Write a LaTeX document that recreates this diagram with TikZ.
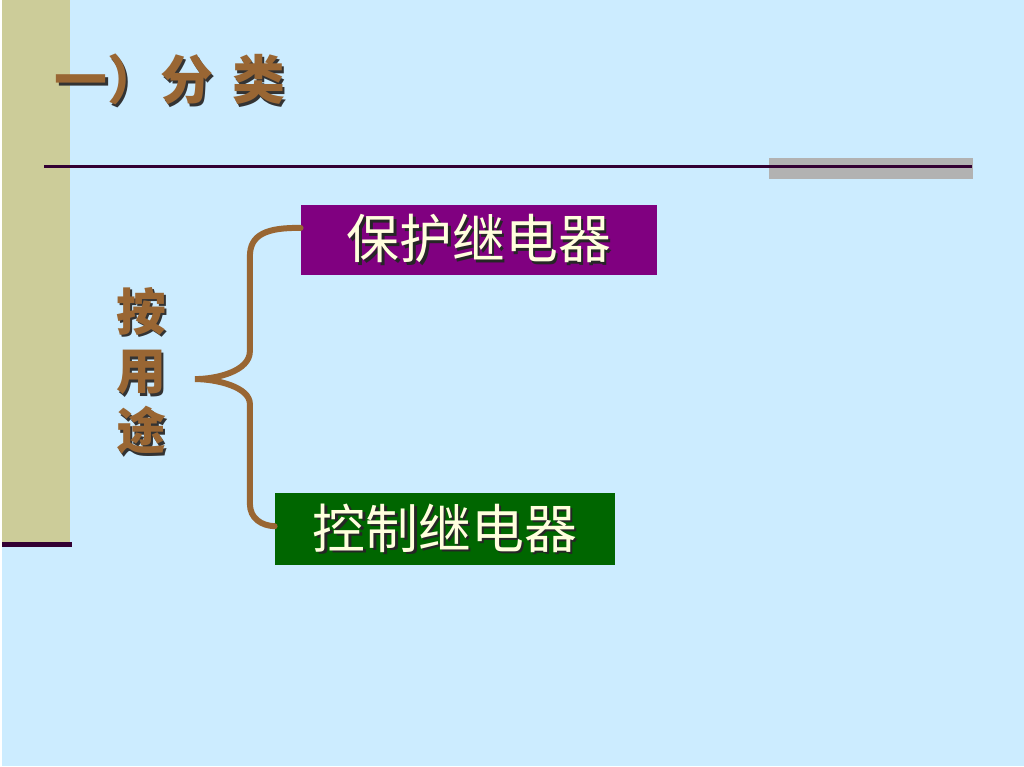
\documentclass[tikz,border=0pt]{standalone}
\usepackage{fontspec}
\newfontfamily\cjk{Noto Sans CJK SC}
\usetikzlibrary{positioning}

\definecolor{skyback}{HTML}{CCECFF}
\definecolor{sidebar}{HTML}{CCCC99}
\definecolor{darkrule}{HTML}{330033}
\definecolor{greybar}{HTML}{B2B2B2}
\definecolor{protfill}{HTML}{800080}
\definecolor{ctrlfill}{HTML}{006600}
\definecolor{woodbrown}{HTML}{996633}
\definecolor{creamtext}{HTML}{FFFFDD}

% text with a dark drop shadow
\newcommand\embossed[2]{\rlap{\kern2.5pt\raisebox{-2.5pt}{\color{#1}#2}}#2}

\begin{document}
\begin{tikzpicture}[x=1pt,y=-1pt,
  titletext/.style={font=\cjk\bfseries\fontsize{53}{53}\selectfont,
    text=woodbrown,inner sep=0pt},
  kindbox/.style={minimum height=71pt,inner sep=0pt,text=creamtext,
    font=\cjk\fontsize{53}{53}\selectfont},
  bracestroke/.style={draw=woodbrown,line width=6pt,line cap=round}]

  \fill[skyback] (0,0) rectangle (1024,768);
  \fill[sidebar] (0,0) rectangle (68,544);
  \draw[darkrule,line width=5pt] (0,546) -- (70,546);

  \node[titletext,anchor=west] (title) at (52,81)
    {\embossed{black!80}{一）分\kern19pt 类}};

  \fill[greybar] (768,158) rectangle (973,179);
  \draw[darkrule,line width=2.5pt] (42,167) -- (972,167);

  \node[kindbox,fill=protfill,minimum width=357pt] (prot) at (477.5,240.5)
    {\embossed{black!85}{保护继电器}};
  \node[kindbox,fill=ctrlfill,minimum width=341pt,minimum height=72pt]
    (ctrl) at (443.5,530.5) {\embossed{black!85}{控制继电器}};

  \node[titletext,font=\cjk\bfseries\fontsize{50}{60}\selectfont,
    align=center] (usage) at (139,373)
    {\embossed{black!80}{按}\\\embossed{black!80}{用}\\\embossed{black!80}{途}};

  \draw[bracestroke] ([yshift=12pt]prot.west)
    .. controls (265,228) and (248,235) .. (248,257) -- (248,352)
    .. controls (248,372) and (215,380) .. (193,380)
    .. controls (215,380) and (248,388) .. (248,405) -- (248,505)
    .. controls (248,520) and (260,527) .. ([yshift=3pt]ctrl.west);
\end{tikzpicture}
\end{document}
